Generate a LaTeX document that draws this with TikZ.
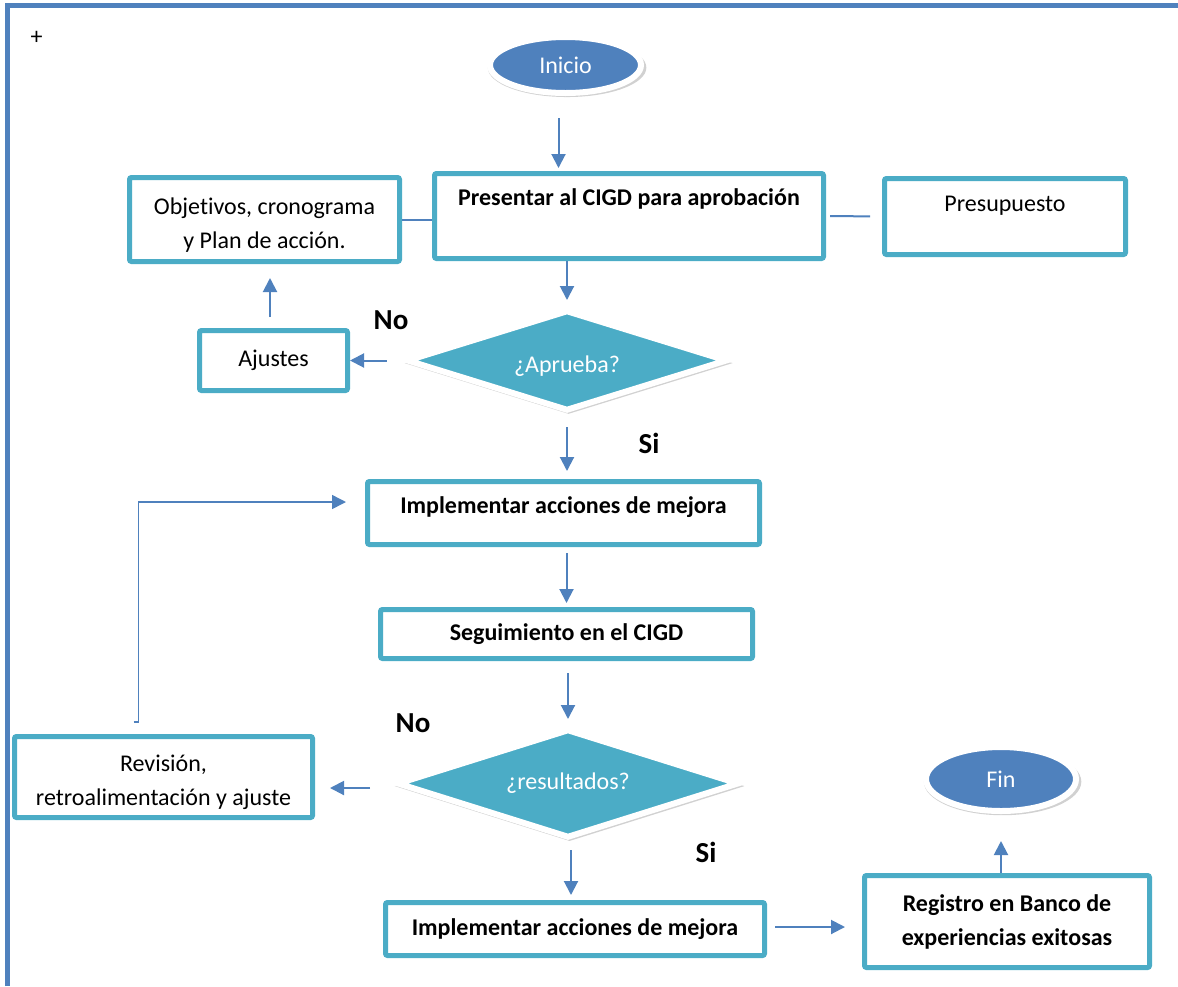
\documentclass[tikz,border=0pt]{standalone}
\usepackage{fontspec}
\setmainfont{Carlito}[Ligatures=CommonOff]
\usepackage{xcolor}
\usetikzlibrary{arrows.meta,positioning,shapes.geometric,shadows}
\definecolor{flowblue}{HTML}{4F81BD}
\definecolor{boxteal}{HTML}{4BACC6}
\newcommand{\boxfont}{\fontsize{24}{34}\selectfont}
\newcommand{\tagfont}{\bfseries\fontsize{29}{35}\selectfont}

\begin{document}
\begin{tikzpicture}[
  x=1pt,y=-1pt,
  every node/.style={font=\boxfont},
  box/.style={draw=boxteal,line width=5pt,rounded corners=2pt,fill=white,align=center,inner sep=0pt},
  terminal/.style={ellipse,fill=flowblue,draw=white,line width=6pt,text=white,inner sep=0pt,
    drop shadow={shadow scale=1.05,shadow xshift=1.5pt,shadow yshift=-2.5pt,opacity=0.3,fill=black!60}},
  decision/.style={diamond,aspect=3.2,fill=boxteal,draw=white,line width=6pt,text=white,inner sep=0pt,
    drop shadow={shadow scale=1.03,shadow xshift=1.5pt,shadow yshift=-2.5pt,opacity=0.3,fill=black!60}},
  arr/.style={-{Triangle[length=14pt,width=14pt]},line width=2pt,draw=flowblue},
  conn/.style={line width=2pt,draw=flowblue},
  tag/.style={font=\tagfont}
]
\useasboundingbox (0,0) rectangle (1178,986);
\draw[line width=5pt,flowblue] (7.5,986) -- (7.5,5.5) -- (1178,5.5);
\node (plus) at (36.5,37.5) {+};

% nodes
\node[terminal,minimum width=151,minimum height=56] (inicio) at (565.5,65) {Inicio};
\node[box,minimum width=389,minimum height=85,text depth=38pt,font=\boxfont\bfseries] (presentar) at (629,216) {Presentar al CIGD para aprobación};
\node[box,minimum width=270,minimum height=84,text height=62pt] (objetivos) at (264.5,219.5) {Objetivos, cronograma\\y Plan de acción.};
\node[box,minimum width=241,minimum height=76,text depth=26pt] (presupuesto) at (1005,216.5) {Presupuesto};
\node[decision,minimum width=321,minimum height=101,text height=28pt] (aprueba) at (567,360.5) {¿Aprueba?};
\node[box,minimum width=148,minimum height=60] (ajustes) at (273.5,360.5) {Ajustes};
\node[box,minimum width=392,minimum height=63,text depth=16pt,font=\boxfont\bfseries] (implementar) at (563.5,513) {Implementar acciones de mejora};
\node[box,minimum width=372,minimum height=49,font=\boxfont\bfseries] (seguimiento) at (566.5,634) {Seguimiento en el CIGD};
\node[decision,minimum width=342,minimum height=109] (resultados) at (568,783.5) {¿resultados?};
\node[box,minimum width=298,minimum height=81,text height=61pt] (revision) at (163.5,777) {Revisión,\\retroalimentación y ajuste};
\node[box,minimum width=379,minimum height=53,font=\boxfont\bfseries] (implementarb) at (575,929) {Implementar acciones de mejora};
\node[box,minimum width=285,minimum height=92,font=\boxfont\bfseries] (registro) at (1007,921.5) {Registro en Banco de\\experiencias exitosas};
\node[terminal,minimum width=150,minimum height=64] (fin) at (1001,779) {Fin};

\node[tag] (noa) at (391,320) {No};
\node[tag] (sia) at (649,443) {Si};
\node[tag] (nob) at (413,723) {No};
\node[tag] (sib) at (706,852) {Si};

% connectors
\draw[arr,shorten <=22pt,shorten >=3pt] ([xshift=-7pt]inicio.south) -- ([xshift=-7pt]inicio.south |- presentar.north);
\draw[conn] (objetivos.east) -- (objetivos.east -| presentar.west);
\draw[conn,shorten <=4pt,shorten >=12pt] (presentar.east) -- (presupuesto.west);
\draw[arr,shorten >=7pt] (aprueba.north |- presentar.south) -- (aprueba.north);
\draw[arr,shorten <=17pt] (aprueba.west) -- (ajustes.east);
\draw[arr,shorten <=11pt,shorten >=14pt] ([xshift=-3.5pt]ajustes.north) -- ([xshift=-3.5pt]ajustes.north |- objetivos.south);
\draw[arr,shorten <=13pt,shorten >=8pt] (aprueba.south) -- (aprueba.south |- implementar.north);
\draw[arr,line width=1.5pt] ([xshift=-30pt,yshift=12pt]revision.north) -- ++(5,0) |- ([xshift=-19pt,yshift=11pt]implementar.west);
\draw[arr,shorten <=6pt,shorten >=4pt] (seguimiento.north |- implementar.south) -- (seguimiento.north);
\draw[arr,shorten <=12pt,shorten >=7pt] (resultados.north |- seguimiento.south) -- (resultados.north);
\draw[arr,shorten <=24pt,shorten >=15pt] ([yshift=-4.5pt]resultados.west) -- ([yshift=-4.5pt]resultados.west -| revision.east);
\draw[arr,shorten <=9pt,shorten >=5pt] ([xshift=3pt]resultados.south) -- ([xshift=3pt]resultados.south |- implementarb.north);
\draw[arr,shorten <=8pt,shorten >=17pt] ([yshift=2pt]implementarb.east) -- ([yshift=2pt]implementarb.east -| registro.west);
\draw[arr,shorten >=27pt] (fin.south |- registro.north) -- (fin.south);
\end{tikzpicture}
\end{document}
